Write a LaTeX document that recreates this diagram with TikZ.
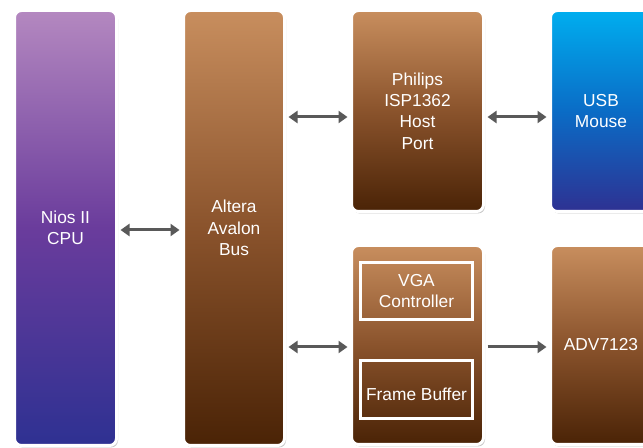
\documentclass[tikz,border=0pt]{standalone}
\usepackage{fontspec}
\setmainfont{Liberation Sans}
\usetikzlibrary{arrows.meta,shadows}
\newdimen\pxu \pxu=0.75pt
\definecolor{brtop}{HTML}{C88E5E}
\definecolor{brmid}{HTML}{8A532C}
\definecolor{brbot}{HTML}{4A2306}
\definecolor{cputop}{HTML}{B488C0}
\definecolor{cpumid}{HTML}{6A3C9C}
\definecolor{cpubot}{HTML}{2E3192}
\definecolor{usbtop}{HTML}{00AEEF}
\definecolor{usbmid}{HTML}{0A6CC6}
\definecolor{usbbot}{HTML}{2E3192}
\definecolor{arrgray}{HTML}{595959}
\tikzset{
  blk/.style={draw=white, line width=3\pxu, rounded corners=7\pxu, text=white,
    align=center, inner sep=0pt, outer sep=0pt,
    drop shadow={shadow xshift=1.5\pxu, shadow yshift=-2\pxu, opacity=.22, fill=black}},
  brownbox/.style={blk, top color=brtop, bottom color=brbot, middle color=brmid},
  cpubox/.style={blk, top color=cputop, bottom color=cpubot, middle color=cpumid},
  usbbox/.style={blk, top color=usbtop, bottom color=usbbot, middle color=usbmid},
  subbox/.style={draw=white, line width=3\pxu, text=white, align=center,
    inner sep=0pt, outer sep=0pt, minimum width=112\pxu},
  link/.style={draw=arrgray, line width=2.25pt, shorten <=3pt, shorten >=3pt},
  both/.style={link, {Triangle[length=6.75pt,width=9pt]}-{Triangle[length=6.75pt,width=9pt]}},
  one/.style={link, -{Triangle[length=6.75pt,width=9pt]}},
}

\begin{document}
\begin{tikzpicture}[font=\fontsize{13}{16}\selectfont, x=\pxu, y=-\pxu]
  \useasboundingbox (0,0) rectangle (643,448);
  % main blocks
  \node[cpubox, minimum width=102\pxu, minimum height=435\pxu] (cpu) at (65.5,228) {Nios II\\CPU};
  \node[brownbox, minimum width=101\pxu, minimum height=435\pxu] (bus) at (234,228) {Altera\\Avalon\\Bus};
  \node[brownbox, minimum width=132\pxu, minimum height=201\pxu] (isp) at (417.5,111) {Philips\\ISP1362\\Host\\Port};
  \node[usbbox, minimum width=101\pxu, minimum height=201\pxu] (usb) at (601,111) {USB\\Mouse};
  \node[brownbox, minimum width=132\pxu, minimum height=199\pxu] (vga) at (417.5,345) {};
  \node[brownbox, minimum width=101\pxu, minimum height=199\pxu] (adv) at (601,345) {ADV7123};
  % inside the VGA block
  \node[subbox, minimum height=57\pxu] (vgac) at (416.5,291) {VGA\\Controller};
  \node[subbox, minimum height=58\pxu] (fbuf) at (416.5,389.5) {\rule{0pt}{23\pxu}Frame Buffer};
  % arrow levels
  \coordinate (ymid) at (0,230);
  \coordinate (yhi) at (0,117);
  \coordinate (ylo) at (0,347);
  \draw[both] (cpu.east |- ymid) -- (bus.west |- ymid);
  \draw[both] (bus.east |- yhi) -- (isp.west |- yhi);
  \draw[both] (isp.east |- yhi) -- (usb.west |- yhi);
  \draw[both] (bus.east |- ylo) -- (vga.west |- ylo);
  \draw[one] (vga.east |- ylo) -- (adv.west |- ylo);
\end{tikzpicture}
\end{document}
